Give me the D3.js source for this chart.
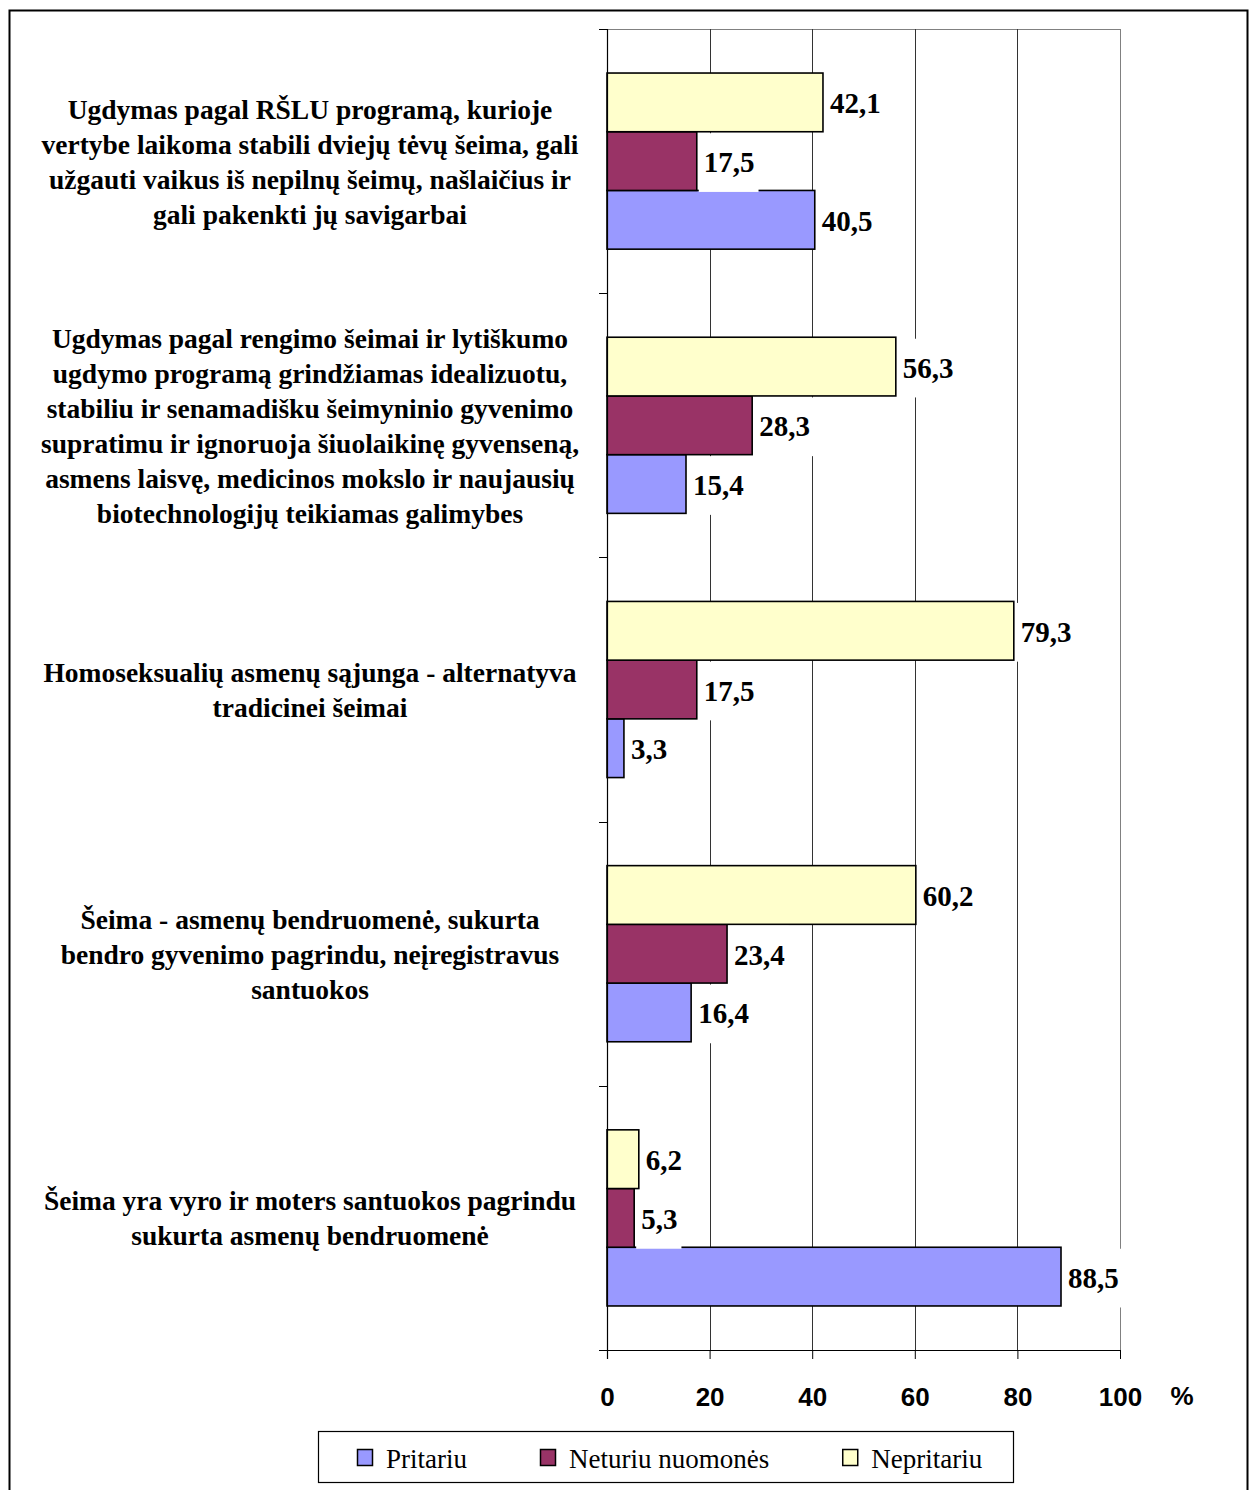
<!DOCTYPE html>
<html><head><meta charset="utf-8">
<script src="https://cdn.jsdelivr.net/npm/d3@7"></script>
<style>body{margin:0;background:#fff}</style>
</head><body><svg id="c" width="1252" height="1490"></svg>
<script>
const categories = [
 "Ugdymas pagal RŠLU programą, kurioje\nvertybe laikoma stabili dviejų tėvų šeima, gali\nužgauti vaikus iš nepilnų šeimų, našlaičius ir\ngali pakenkti jų savigarbai",
 "Ugdymas pagal rengimo šeimai ir lytiškumo\nugdymo programą grindžiamas idealizuotu,\nstabiliu ir senamadišku šeimyninio gyvenimo\nsupratimu ir ignoruoja šiuolaikinę gyvenseną,\nasmens laisvę, medicinos mokslo ir naujausių\nbiotechnologijų teikiamas galimybes",
 "Homoseksualių asmenų sąjunga - alternatyva\ntradicinei šeimai",
 "Šeima - asmenų bendruomenė, sukurta\nbendro gyvenimo pagrindu, neįregistravus\nsantuokos",
 "Šeima yra vyro ir moters santuokos pagrindu\nsukurta asmenų bendruomenė"
];
const seriesNames = ["Pritariu", "Neturiu nuomonės", "Nepritariu"];
const pritariu   = [40.5, 15.4, 3.3, 16.4, 88.5];
const neturiu    = [17.5, 28.3, 17.5, 23.4, 5.3];
const nepritariu = [42.1, 56.3, 79.3, 60.2, 6.2];
const xTicks = [0, 20, 40, 60, 80, 100];
const seriesColors = ["#9999FF", "#993366", "#FFFFCC"];

const seriesValues = [pritariu, neturiu, nepritariu];
const locale = d3.formatLocale({decimal: ",", thousands: " ", grouping: [3], currency: ["", ""]});
const fmt = locale.format(".1f");

const svg = d3.select("#c");
const X0 = 607, X1 = 1120, Y0 = 29, Y1 = 1350;
const SERIF = "'Liberation Serif','Times New Roman',serif";
const SANS = "'Liberation Sans',Arial,sans-serif";

// outer frame
svg.append("rect").attr("x", 9.5).attr("y", 10.5).attr("width", 1238).attr("height", 1500)
  .attr("fill", "none").attr("stroke", "#000").attr("stroke-width", 2);

const x = d3.scaleLinear().domain([0, 100]).range([X0, X1]);
const y = d3.scaleBand().domain(d3.range(categories.length)).range([Y0, Y1]).padding(0);
// top-to-bottom order inside a category: Nepritariu, Neturiu, Pritariu
const ySub = d3.scaleBand().domain([2, 1, 0]).range([0, y.bandwidth()]).paddingInner(0).paddingOuter(0.75);

// plot border (gray)
svg.append("rect").attr("x", X0 + 0.5).attr("y", Y0 + 0.5).attr("width", X1 - X0).attr("height", Y1 - Y0)
  .attr("fill", "none").attr("stroke", "#808080").attr("stroke-width", 1);

// gridlines
svg.append("g").selectAll("line").data(xTicks.filter(t => t > 0 && t < 100)).join("line")
  .attr("x1", d => Math.round(x(d)) + 0.5).attr("x2", d => Math.round(x(d)) + 0.5)
  .attr("y1", Y0).attr("y2", Y1)
  .attr("stroke", "#333").attr("stroke-width", 1);

// bars
const flat = [];
categories.forEach((c, i) => seriesValues.forEach((vals, s) => flat.push({i, s, v: vals[i]})));
const bh = ySub.bandwidth();
svg.append("g").selectAll("rect").data(flat).join("rect")
  .attr("x", X0).attr("y", d => y(d.i) + ySub(d.s))
  .attr("width", d => x(d.v) - X0).attr("height", bh)
  .attr("fill", d => seriesColors[d.s]).attr("stroke", "#000").attr("stroke-width", 1.6);

// value labels with white boxes
const lab = svg.append("g");
const texts = lab.selectAll("text").data(flat).join("text")
  .attr("x", d => x(d.v) + 7).attr("y", d => y(d.i) + ySub(d.s) + bh / 2 + 11)
  .attr("font-family", SERIF).attr("font-weight", "bold").attr("font-size", 29)
  .attr("fill", "#000")
  .text(d => fmt(d.v));
texts.each(function(d) {
  const w = this.getComputedTextLength();
  lab.insert("rect", "text").attr("x", x(d.v) + 2).attr("y", y(d.i) + ySub(d.s) + 1.5)
    .attr("width", w + 9).attr("height", bh).attr("fill", "#fff");
});

// left axis
svg.append("line").attr("x1", X0 + 0.5).attr("x2", X0 + 0.5).attr("y1", Y0).attr("y2", Y1 + 9)
  .attr("stroke", "#000").attr("stroke-width", 1.2);
const bounds = d3.range(categories.length + 1).map(k => k < categories.length ? y(k) : Y1);
svg.append("g").selectAll("line").data(bounds).join("line")
  .attr("x1", X0 - 8).attr("x2", X0).attr("y1", d => Math.round(d) + 0.5).attr("y2", d => Math.round(d) + 0.5)
  .attr("stroke", "#000").attr("stroke-width", 1);

// bottom axis
svg.append("line").attr("x1", X0 - 8).attr("x2", X1).attr("y1", Y1 + 0.5).attr("y2", Y1 + 0.5)
  .attr("stroke", "#000").attr("stroke-width", 1.2);
const xAxis = d3.axisBottom(x).tickValues(xTicks).tickSize(9).tickFormat(d3.format("d"));
const gx = svg.append("g").attr("transform", `translate(0,${Y1})`).call(xAxis);
gx.select(".domain").remove();
gx.selectAll(".tick line").attr("stroke", "#000");
gx.selectAll(".tick text").attr("y", 56).attr("dy", 0)
  .attr("font-family", SANS).attr("font-weight", "bold").attr("font-size", 26).attr("fill", "#000");
svg.append("text").attr("x", 1182).attr("y", 1405).attr("text-anchor", "middle")
  .attr("font-family", SANS).attr("font-weight", "bold").attr("font-size", 26).text("%");

// category labels
const LH = 35;
categories.forEach((c, i) => {
  const lines = c.split("\n");
  const cy = y(i) + y.bandwidth() / 2;
  const t = svg.append("text").attr("text-anchor", "middle")
    .attr("font-family", SERIF).attr("font-weight", "bold").attr("font-size", 27.5)
    .attr("fill", "#000");
  lines.forEach((ln, k) => {
    t.append("tspan").attr("x", 310).attr("y", cy + 10 + (k - (lines.length - 1) / 2) * LH).text(ln);
  });
});

// legend
const lg = svg.append("g");
lg.append("rect").attr("x", 318.5).attr("y", 1431.5).attr("width", 695).attr("height", 51)
  .attr("fill", "#fff").attr("stroke", "#000").attr("stroke-width", 1.2);
let lx = 357;
seriesNames.forEach((name, s) => {
  lg.append("rect").attr("x", lx + 0.5).attr("y", 1449.5).attr("width", 15).attr("height", 16)
    .attr("fill", seriesColors[s]).attr("stroke", "#000").attr("stroke-width", 1.5);
  const tt = lg.append("text").attr("x", lx + 29).attr("y", 1468)
    .attr("font-family", SERIF).attr("font-size", 27).attr("fill", "#000").text(name);
  lx = lx + 29 + tt.node().getComputedTextLength() + 73;
});
</script></body></html>
